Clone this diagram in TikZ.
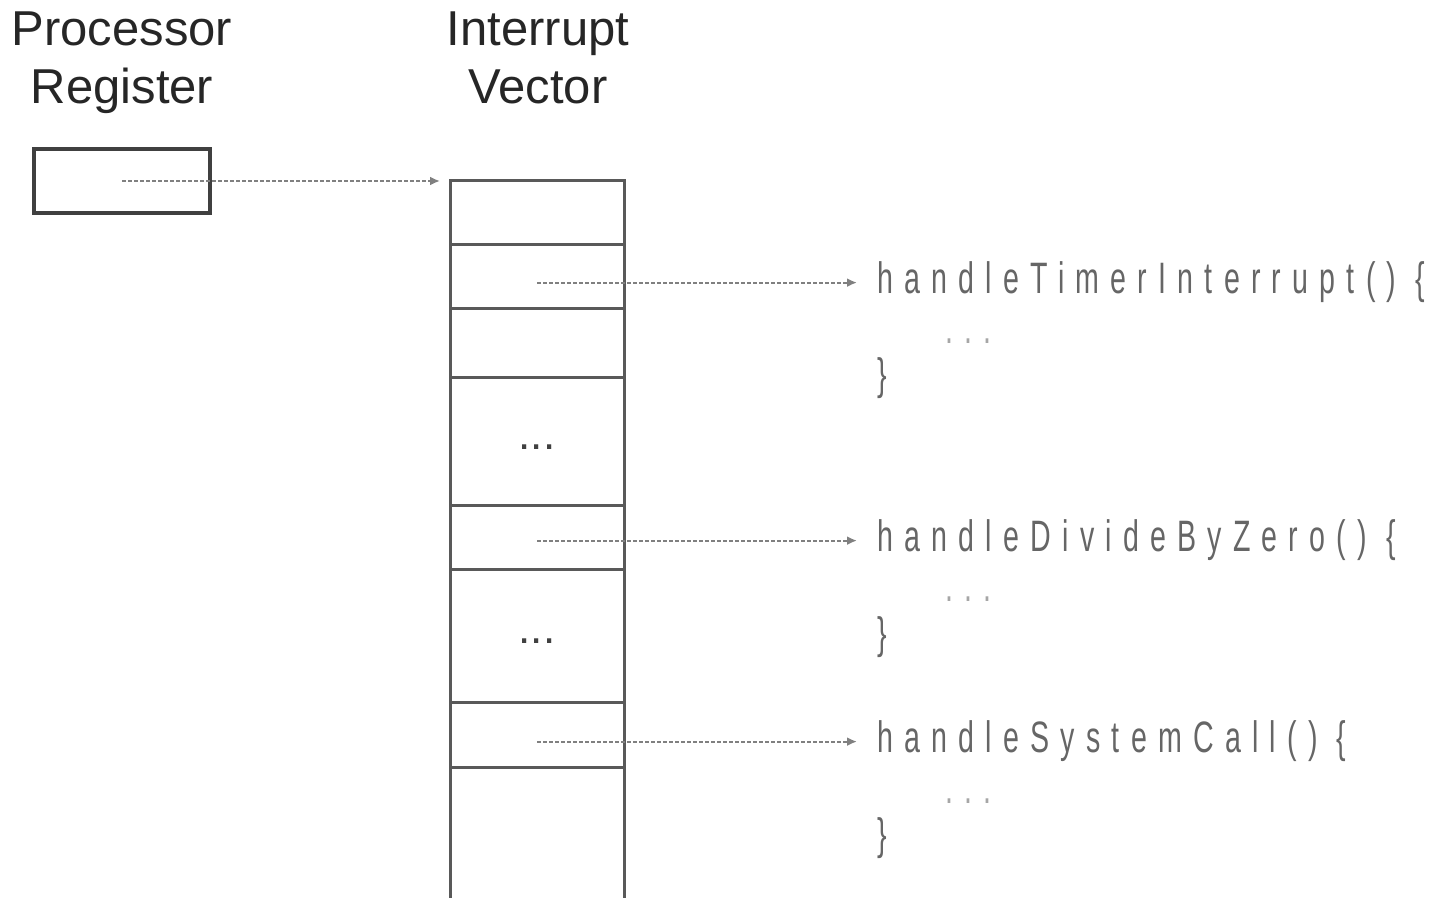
\documentclass[tikz,border=0pt]{standalone}
\usepackage{fontspec}
\setmainfont{Liberation Sans}
\newfontfamily\codefont[FakeStretch=0.65, LetterSpace=25.5]{Liberation Sans}
\usetikzlibrary{positioning, calc, arrows.meta}

\begin{document}
\begin{tikzpicture}[x=0.5pt, y=-0.5pt,
	title/.style={align=center, inner sep=0pt, anchor=north, text=black!85, font=\fontsize{24.5}{29}\selectfont},
	vec/.style={draw=black!65, line width=1.5pt},
	cell/.style={vec, minimum width=87pt, inner sep=0pt, outer sep=0pt},
	code/.style={anchor=base west, inner sep=0pt, text=black!60, font=\codefont\fontsize{22}{26}\selectfont},
	ptr/.style={draw=black!50, line width=1pt, dash pattern=on 2pt off 1pt, -{Latex[length=5pt, width=4.5pt]}, shorten >=10pt}]
\useasboundingbox (0,0) rectangle (1431,898);
\node[title] (reg title) at (122, 11) {Processor\\Register};
\node[title] (vec title) at (538, 11) {Interrupt\\Vector};
\node[draw=black!75, line width=1.8pt, minimum width=88pt, minimum height=32pt] (reg) at (122, 181) {};
\foreach \n/\ya/\yb in {1/181/245, 2/245/309, 3/309/378, 4/378/506, 5/506/570, 6/570/703, 7/703/767}
	\node[cell, minimum height={(\yb-\ya)*0.5pt}] (cell \n) at (537, {(\ya+\yb)/2}) {};
\draw[vec] (cell 7.south west) -- ++(0, 131);
\draw[vec] (cell 7.south east) -- ++(0, 131);
\foreach \n in {4, 6}
	\node[text=black!75, font=\fontsize{22}{26}\selectfont, yshift=-2.5pt] (dots \n) at (cell \n) {...};
\draw[ptr, shorten >=5pt] (reg.center) -- (reg.center -| cell 1.north west);
\foreach \name/\cn/\yy/\txt in {timer/2/294/handleTimerInterrupt() \{, divide/5/552/handleDivideByZero() \{, syscall/7/753/handleSystemCall() \{} {
	\node[code] (\name) at (877, \yy) {\txt};
	\node[code, text=black!35] (\name dots) at (945, {\yy+50}) {...};
	\node[code] (\name end) at (877, {\yy+96}) {\}};
	\draw[ptr] (cell \cn.center |- \name.west) -- (\name.west);
}
\end{tikzpicture}
\end{document}
